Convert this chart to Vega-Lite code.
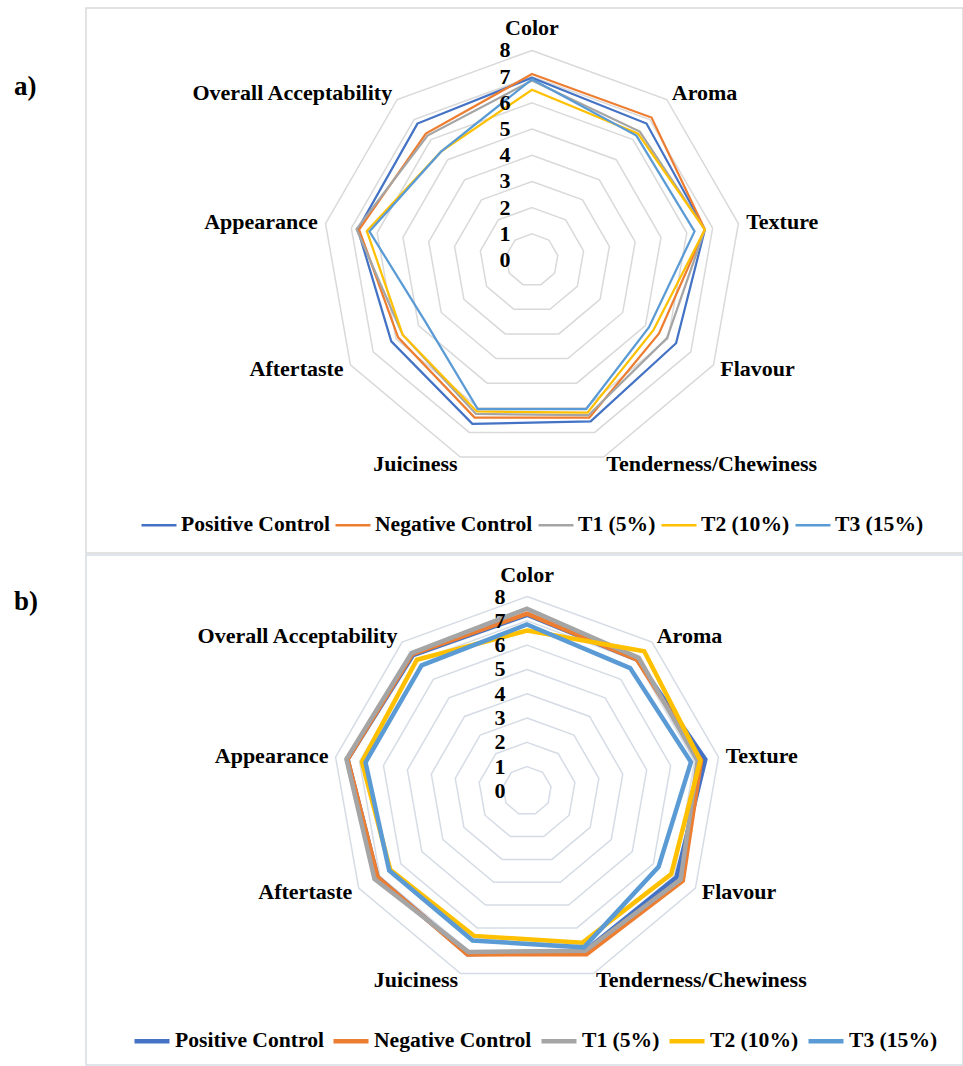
{
  "$schema": "https://vega.github.io/schema/vega-lite/v6.json",
  "padding": {"left": 13, "top": 7, "right": 1, "bottom": 4},
  "background": "white",
  "spacing": 0,
  "config": {"font": "Liberation Serif"},
  "datasets": {
    "axes": [
      {"attribute": "Color", "k": 0, "rings": [1,2,3,4,5,6,7,8]},
      {"attribute": "Aroma", "k": 1, "rings": [1,2,3,4,5,6,7,8]},
      {"attribute": "Texture", "k": 2, "rings": [1,2,3,4,5,6,7,8]},
      {"attribute": "Flavour", "k": 3, "rings": [1,2,3,4,5,6,7,8]},
      {"attribute": "Tenderness/Chewiness", "k": 4, "rings": [1,2,3,4,5,6,7,8]},
      {"attribute": "Juiciness", "k": 5, "rings": [1,2,3,4,5,6,7,8]},
      {"attribute": "Aftertaste", "k": 6, "rings": [1,2,3,4,5,6,7,8]},
      {"attribute": "Appearance", "k": 7, "rings": [1,2,3,4,5,6,7,8]},
      {"attribute": "Overall Acceptability", "k": 8, "rings": [1,2,3,4,5,6,7,8]}
    ],
    "ticks": [{"tick": 0},{"tick": 1},{"tick": 2},{"tick": 3},{"tick": 4},{"tick": 5},{"tick": 6},{"tick": 7},{"tick": 8}],
    "panelA": [
      {"series": "Positive Control", "attribute": "Color", "score": 6.96},
      {"series": "Positive Control", "attribute": "Aroma", "score": 6.8},
      {"series": "Positive Control", "attribute": "Texture", "score": 6.7},
      {"series": "Positive Control", "attribute": "Flavour", "score": 6.35},
      {"series": "Positive Control", "attribute": "Tenderness/Chewiness", "score": 6.55},
      {"series": "Positive Control", "attribute": "Juiciness", "score": 6.65},
      {"series": "Positive Control", "attribute": "Aftertaste", "score": 6.2},
      {"series": "Positive Control", "attribute": "Appearance", "score": 6.75},
      {"series": "Positive Control", "attribute": "Overall Acceptability", "score": 6.8},
      {"series": "Negative Control", "attribute": "Color", "score": 7.1},
      {"series": "Negative Control", "attribute": "Aroma", "score": 7.1},
      {"series": "Negative Control", "attribute": "Texture", "score": 6.7},
      {"series": "Negative Control", "attribute": "Flavour", "score": 5.6},
      {"series": "Negative Control", "attribute": "Tenderness/Chewiness", "score": 6.4},
      {"series": "Negative Control", "attribute": "Juiciness", "score": 6.4},
      {"series": "Negative Control", "attribute": "Aftertaste", "score": 5.9},
      {"series": "Negative Control", "attribute": "Appearance", "score": 6.7},
      {"series": "Negative Control", "attribute": "Overall Acceptability", "score": 6.3},
      {"series": "T1 (5%)", "attribute": "Color", "score": 6.85},
      {"series": "T1 (5%)", "attribute": "Aroma", "score": 6.4},
      {"series": "T1 (5%)", "attribute": "Texture", "score": 6.7},
      {"series": "T1 (5%)", "attribute": "Flavour", "score": 5.95},
      {"series": "T1 (5%)", "attribute": "Tenderness/Chewiness", "score": 6.3},
      {"series": "T1 (5%)", "attribute": "Juiciness", "score": 6.25},
      {"series": "T1 (5%)", "attribute": "Aftertaste", "score": 5.7},
      {"series": "T1 (5%)", "attribute": "Appearance", "score": 6.8},
      {"series": "T1 (5%)", "attribute": "Overall Acceptability", "score": 6.2},
      {"series": "T2 (10%)", "attribute": "Color", "score": 6.5},
      {"series": "T2 (10%)", "attribute": "Aroma", "score": 6.3},
      {"series": "T2 (10%)", "attribute": "Texture", "score": 6.7},
      {"series": "T2 (10%)", "attribute": "Flavour", "score": 5.35},
      {"series": "T2 (10%)", "attribute": "Tenderness/Chewiness", "score": 6.2},
      {"series": "T2 (10%)", "attribute": "Juiciness", "score": 6.15},
      {"series": "T2 (10%)", "attribute": "Aftertaste", "score": 5.7},
      {"series": "T2 (10%)", "attribute": "Appearance", "score": 6.4},
      {"series": "T2 (10%)", "attribute": "Overall Acceptability", "score": 5.4},
      {"series": "T3 (15%)", "attribute": "Color", "score": 6.9},
      {"series": "T3 (15%)", "attribute": "Aroma", "score": 6.2},
      {"series": "T3 (15%)", "attribute": "Texture", "score": 6.3},
      {"series": "T3 (15%)", "attribute": "Flavour", "score": 5.15},
      {"series": "T3 (15%)", "attribute": "Tenderness/Chewiness", "score": 6.05},
      {"series": "T3 (15%)", "attribute": "Juiciness", "score": 6.05},
      {"series": "T3 (15%)", "attribute": "Aftertaste", "score": 4.7},
      {"series": "T3 (15%)", "attribute": "Appearance", "score": 6.3},
      {"series": "T3 (15%)", "attribute": "Overall Acceptability", "score": 5.4}
    ],
    "panelB": [
      {"series": "Positive Control", "attribute": "Color", "score": 7.25},
      {"series": "Positive Control", "attribute": "Aroma", "score": 7.05},
      {"series": "Positive Control", "attribute": "Texture", "score": 7.45},
      {"series": "Positive Control", "attribute": "Flavour", "score": 7.1},
      {"series": "Positive Control", "attribute": "Tenderness/Chewiness", "score": 7.0},
      {"series": "Positive Control", "attribute": "Juiciness", "score": 7.15},
      {"series": "Positive Control", "attribute": "Aftertaste", "score": 7.1},
      {"series": "Positive Control", "attribute": "Appearance", "score": 7.5},
      {"series": "Positive Control", "attribute": "Overall Acceptability", "score": 7.3},
      {"series": "Negative Control", "attribute": "Color", "score": 7.3},
      {"series": "Negative Control", "attribute": "Aroma", "score": 7.05},
      {"series": "Negative Control", "attribute": "Texture", "score": 7.27},
      {"series": "Negative Control", "attribute": "Flavour", "score": 7.4},
      {"series": "Negative Control", "attribute": "Tenderness/Chewiness", "score": 7.15},
      {"series": "Negative Control", "attribute": "Juiciness", "score": 7.16},
      {"series": "Negative Control", "attribute": "Aftertaste", "score": 7.1},
      {"series": "Negative Control", "attribute": "Appearance", "score": 7.5},
      {"series": "Negative Control", "attribute": "Overall Acceptability", "score": 7.35},
      {"series": "T1 (5%)", "attribute": "Color", "score": 7.5},
      {"series": "T1 (5%)", "attribute": "Aroma", "score": 7.15},
      {"series": "T1 (5%)", "attribute": "Texture", "score": 7.13},
      {"series": "T1 (5%)", "attribute": "Flavour", "score": 7.3},
      {"series": "T1 (5%)", "attribute": "Tenderness/Chewiness", "score": 7.0},
      {"series": "T1 (5%)", "attribute": "Juiciness", "score": 7.05},
      {"series": "T1 (5%)", "attribute": "Aftertaste", "score": 7.25},
      {"series": "T1 (5%)", "attribute": "Appearance", "score": 7.55},
      {"series": "T1 (5%)", "attribute": "Overall Acceptability", "score": 7.4},
      {"series": "T2 (10%)", "attribute": "Color", "score": 6.6},
      {"series": "T2 (10%)", "attribute": "Aroma", "score": 7.5},
      {"series": "T2 (10%)", "attribute": "Texture", "score": 7.24},
      {"series": "T2 (10%)", "attribute": "Flavour", "score": 6.85},
      {"series": "T2 (10%)", "attribute": "Tenderness/Chewiness", "score": 6.65},
      {"series": "T2 (10%)", "attribute": "Juiciness", "score": 6.35},
      {"series": "T2 (10%)", "attribute": "Aftertaste", "score": 6.5},
      {"series": "T2 (10%)", "attribute": "Appearance", "score": 6.9},
      {"series": "T2 (10%)", "attribute": "Overall Acceptability", "score": 7.05},
      {"series": "T3 (15%)", "attribute": "Color", "score": 6.85},
      {"series": "T3 (15%)", "attribute": "Aroma", "score": 6.6},
      {"series": "T3 (15%)", "attribute": "Texture", "score": 6.85},
      {"series": "T3 (15%)", "attribute": "Flavour", "score": 6.25},
      {"series": "T3 (15%)", "attribute": "Tenderness/Chewiness", "score": 6.85},
      {"series": "T3 (15%)", "attribute": "Juiciness", "score": 6.55},
      {"series": "T3 (15%)", "attribute": "Aftertaste", "score": 6.55},
      {"series": "T3 (15%)", "attribute": "Appearance", "score": 6.75},
      {"series": "T3 (15%)", "attribute": "Overall Acceptability", "score": 6.75}
    ]
  },
  "resolve": {"scale": {"x": "independent", "y": "independent", "color": "independent"}, "legend": {"color": "independent"}},
  "vconcat": [
    {
      "width": 877,
      "height": 545,
      "view": {"stroke": "#d9d9d9", "strokeWidth": 1.5},
      "title": {"text": "a)", "orient": "top", "anchor": "start", "dx": -72, "dy": 118, "font": "Liberation Serif", "fontSize": 27, "fontWeight": "bold", "color": "black", "baseline": "alphabetic"},
      "encoding": {
        "x": {"field": "x", "type": "quantitative", "scale": {"domain": [-17.02, 16.45], "nice": false, "zero": false}, "axis": null},
        "y": {"field": "y", "type": "quantitative", "scale": {"domain": [-11.18, 9.62], "nice": false, "zero": false}, "axis": null}
      },
      "layer": [
        {
          "data": {"name": "axes"},
          "transform": [
            {"flatten": ["rings"]},
            {"calculate": "datum.k * 2 * PI / 9", "as": "theta"},
            {"calculate": "datum.rings * sin(datum.theta)", "as": "x"},
            {"calculate": "datum.rings * cos(datum.theta)", "as": "y"}
          ],
          "mark": {"type": "line", "interpolate": "linear-closed", "stroke": "#d9d9d9", "strokeWidth": 1.5},
          "encoding": {"detail": {"field": "rings", "type": "nominal"}, "order": {"field": "k", "type": "quantitative"}}
        },
        {
          "data": {"name": "panelA"},
          "transform": [
            {"lookup": "attribute", "from": {"data": {"name": "axes"}, "key": "attribute", "fields": ["k"]}},
            {"calculate": "datum.k * 2 * PI / 9", "as": "theta"},
            {"calculate": "datum.score * sin(datum.theta)", "as": "x"},
            {"calculate": "datum.score * cos(datum.theta)", "as": "y"}
          ],
          "mark": {"type": "line", "interpolate": "linear-closed", "strokeWidth": 2.25},
          "encoding": {
            "color": {"field": "series", "type": "nominal",
              "scale": {"domain": ["Positive Control", "Negative Control", "T1 (5%)", "T2 (10%)", "T3 (15%)"], "range": ["#4472C4", "#ED7D31", "#A5A5A5", "#FFC000", "#5B9BD5"]},
              "legend": {"orient": "none", "legendX": 54, "legendY": 498, "direction": "horizontal", "title": null, "symbolType": "stroke", "symbolSize": 1225, "symbolStrokeWidth": 2.5, "labelFont": "Liberation Serif", "labelFontSize": 21.6, "labelFontWeight": "bold", "labelColor": "black", "columnPadding": 0, "labelOffset": 3, "labelLimit": 300}},
            "order": {"field": "k", "type": "quantitative"}
          }
        },
        {
          "data": {"name": "ticks"},
          "transform": [
            {"calculate": "0", "as": "x"},
            {"calculate": "datum.tick", "as": "y"}
          ],
          "mark": {"type": "text", "font": "Liberation Serif", "fontSize": 22, "fontWeight": "bold", "color": "black", "align": "center", "baseline": "middle", "dx": -27},
          "encoding": {"text": {"field": "tick", "type": "quantitative"}}
        },
        {
          "data": {"name": "axes"},
          "transform": [
            {"filter": "datum.k == 0"},
            {"calculate": "8.3 * sin(datum.k * 2 * PI / 9)", "as": "x"},
            {"calculate": "8.3 * cos(datum.k * 2 * PI / 9)", "as": "y"}
          ],
          "mark": {"type": "text", "font": "Liberation Serif", "fontSize": 22, "fontWeight": "bold", "color": "black", "align": "center", "baseline": "middle", "dy": -15},
          "encoding": {"text": {"field": "attribute"}}
        },
        {
          "data": {"name": "axes"},
          "transform": [
            {"filter": "datum.k >= 1 && datum.k <= 4"},
            {"calculate": "8.3 * sin(datum.k * 2 * PI / 9)", "as": "x"},
            {"calculate": "8.3 * cos(datum.k * 2 * PI / 9)", "as": "y"}
          ],
          "mark": {"type": "text", "font": "Liberation Serif", "fontSize": 22, "fontWeight": "bold", "color": "black", "align": "left", "baseline": "middle"},
          "encoding": {"text": {"field": "attribute"}}
        },
        {
          "data": {"name": "axes"},
          "transform": [
            {"filter": "datum.k >= 5"},
            {"calculate": "8.3 * sin(datum.k * 2 * PI / 9)", "as": "x"},
            {"calculate": "8.3 * cos(datum.k * 2 * PI / 9)", "as": "y"}
          ],
          "mark": {"type": "text", "font": "Liberation Serif", "fontSize": 22, "fontWeight": "bold", "color": "black", "align": "right", "baseline": "middle"},
          "encoding": {"text": {"field": "attribute"}}
        }
      ]
    },
    {
      "width": 877,
      "height": 510,
      "view": {"stroke": "#d6dce5", "strokeWidth": 1.5},
      "title": {"text": "b)", "orient": "top", "anchor": "start", "dx": -72, "dy": 86, "font": "Liberation Serif", "fontSize": 27, "fontWeight": "bold", "color": "black", "baseline": "alphabetic"},
      "encoding": {
        "x": {"field": "x", "type": "quantitative", "scale": {"domain": [-18.15, 17.94], "nice": false, "zero": false}, "axis": null},
        "y": {"field": "y", "type": "quantitative", "scale": {"domain": [-11.28, 9.71], "nice": false, "zero": false}, "axis": null}
      },
      "layer": [
        {
          "data": {"name": "axes"},
          "transform": [
            {"flatten": ["rings"]},
            {"calculate": "datum.k * 2 * PI / 9", "as": "theta"},
            {"calculate": "datum.rings * sin(datum.theta)", "as": "x"},
            {"calculate": "datum.rings * cos(datum.theta)", "as": "y"}
          ],
          "mark": {"type": "line", "interpolate": "linear-closed", "stroke": "#d6dce5", "strokeWidth": 1.5},
          "encoding": {"detail": {"field": "rings", "type": "nominal"}, "order": {"field": "k", "type": "quantitative"}}
        },
        {
          "data": {"name": "panelB"},
          "transform": [
            {"lookup": "attribute", "from": {"data": {"name": "axes"}, "key": "attribute", "fields": ["k"]}},
            {"calculate": "datum.k * 2 * PI / 9", "as": "theta"},
            {"calculate": "datum.score * sin(datum.theta)", "as": "x"},
            {"calculate": "datum.score * cos(datum.theta)", "as": "y"}
          ],
          "mark": {"type": "line", "interpolate": "linear-closed", "strokeWidth": 4.5},
          "encoding": {
            "color": {"field": "series", "type": "nominal",
              "scale": {"domain": ["Positive Control", "Negative Control", "T1 (5%)", "T2 (10%)", "T3 (15%)"], "range": ["#4472C4", "#ED7D31", "#A5A5A5", "#FFC000", "#5B9BD5"]},
              "legend": {"orient": "none", "legendX": 46, "legendY": 466, "direction": "horizontal", "title": null, "symbolType": "stroke", "symbolSize": 1225, "symbolStrokeWidth": 4.5, "labelFont": "Liberation Serif", "labelFontSize": 21.6, "labelFontWeight": "bold", "labelColor": "black", "columnPadding": 0, "labelOffset": 3, "labelLimit": 300}},
            "order": {"field": "k", "type": "quantitative"}
          }
        },
        {
          "data": {"name": "ticks"},
          "transform": [
            {"calculate": "0", "as": "x"},
            {"calculate": "datum.tick", "as": "y"}
          ],
          "mark": {"type": "text", "font": "Liberation Serif", "fontSize": 22, "fontWeight": "bold", "color": "black", "align": "center", "baseline": "middle", "dx": -27},
          "encoding": {"text": {"field": "tick", "type": "quantitative"}}
        },
        {
          "data": {"name": "axes"},
          "transform": [
            {"filter": "datum.k == 0"},
            {"calculate": "8.3 * sin(datum.k * 2 * PI / 9)", "as": "x"},
            {"calculate": "8.3 * cos(datum.k * 2 * PI / 9)", "as": "y"}
          ],
          "mark": {"type": "text", "font": "Liberation Serif", "fontSize": 22, "fontWeight": "bold", "color": "black", "align": "center", "baseline": "middle", "dy": -14},
          "encoding": {"text": {"field": "attribute"}}
        },
        {
          "data": {"name": "axes"},
          "transform": [
            {"filter": "datum.k >= 1 && datum.k <= 4"},
            {"calculate": "8.3 * sin(datum.k * 2 * PI / 9)", "as": "x"},
            {"calculate": "8.3 * cos(datum.k * 2 * PI / 9)", "as": "y"}
          ],
          "mark": {"type": "text", "font": "Liberation Serif", "fontSize": 22, "fontWeight": "bold", "color": "black", "align": "left", "baseline": "middle"},
          "encoding": {"text": {"field": "attribute"}}
        },
        {
          "data": {"name": "axes"},
          "transform": [
            {"filter": "datum.k >= 5"},
            {"calculate": "8.3 * sin(datum.k * 2 * PI / 9)", "as": "x"},
            {"calculate": "8.3 * cos(datum.k * 2 * PI / 9)", "as": "y"}
          ],
          "mark": {"type": "text", "font": "Liberation Serif", "fontSize": 22, "fontWeight": "bold", "color": "black", "align": "right", "baseline": "middle"},
          "encoding": {"text": {"field": "attribute"}}
        }
      ]
    }
  ]
}
